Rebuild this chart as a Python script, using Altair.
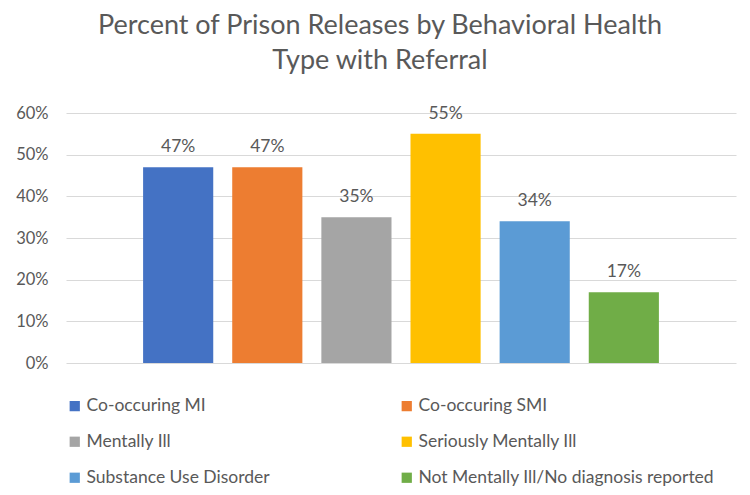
import altair as alt
import pandas as pd

categories = [
    "Co-occuring MI",
    "Co-occuring SMI",
    "Mentally Ill",
    "Seriously Mentally Ill",
    "Substance Use Disorder",
    "Not Mentally Ill/No diagnosis reported",
]
values = [0.47, 0.47, 0.35, 0.55, 0.34, 0.17]
colors = ["#4472C4", "#ED7D31", "#A5A5A5", "#FFC000", "#5B9BD5", "#70AD47"]
y_ticks = [0, 0.1, 0.2, 0.3, 0.4, 0.5, 0.6]

df = pd.DataFrame({"category": categories, "value": values})

FONT = "Lato"
GRAY = "#595959"

x_enc = alt.X(
    "category:N",
    sort=categories,
    axis=alt.Axis(grid=False, domain=False, ticks=False, labels=False, title=None),
    scale=alt.Scale(paddingInner=0.213, paddingOuter=0.865),
)

bars = alt.Chart(df).mark_bar().encode(
    x=x_enc,
    y=alt.Y(
        "value:Q",
        scale=alt.Scale(domain=[0, 0.6], nice=False),
        axis=alt.Axis(
            values=y_ticks,
            format=".0%",
            title=None,
            domain=False,
            ticks=False,
            labelPadding=18,
            labelFontSize=16.5,
            labelColor=GRAY,
            labelFont=FONT,
            gridColor="#D9D9D9",
            gridWidth=1,
        ),
    ),
    color=alt.Color(
        "category:N",
        sort=categories,
        scale=alt.Scale(domain=categories, range=colors),
        legend=alt.Legend(
            title=None,
            orient="none",
            legendX=0,
            legendY=284,
            columns=2,
            columnPadding=128,
            rowPadding=17,
            symbolType="square",
            symbolSize=105,
            symbolStrokeWidth=0,
            labelFontSize=17.5,
            labelFont=FONT,
            labelColor=GRAY,
            labelOffset=3,
            labelLimit=400,
            padding=0,
            direction="horizontal",
        ),
    ),
)

labels = alt.Chart(df).mark_text(
    baseline="alphabetic", dy=-15, fontSize=17.5, font=FONT, color=GRAY
).encode(
    x=x_enc,
    y=alt.Y("value:Q"),
    text=alt.Text("value:Q", format=".0%"),
)

chart = (
    alt.layer(bars, labels)
    .properties(
        width=670,
        height=250,
        background="white",
        view=alt.ViewBackground(stroke="transparent", strokeWidth=0),
        autosize=alt.AutoSizeParams(type="none"),
        padding={"left": 58, "top": 105, "right": 6, "bottom": 125},
        title=alt.TitleParams(
            text=["Percent of Prison Releases by Behavioral Health", "Type with Referral"],
            fontSize=27,
            font=FONT,
            fontWeight="normal",
            color=GRAY,
            lineHeight=35,
            anchor="middle",
            dx=-21,
            offset=30,
        ),
    )
    .configure_view(strokeWidth=0, stroke="transparent")
)
chart.config.style = {"cell": {"stroke": "transparent", "strokeWidth": 0}}

chart.save("out.html", embed_options={"renderer": "svg", "actions": False})
